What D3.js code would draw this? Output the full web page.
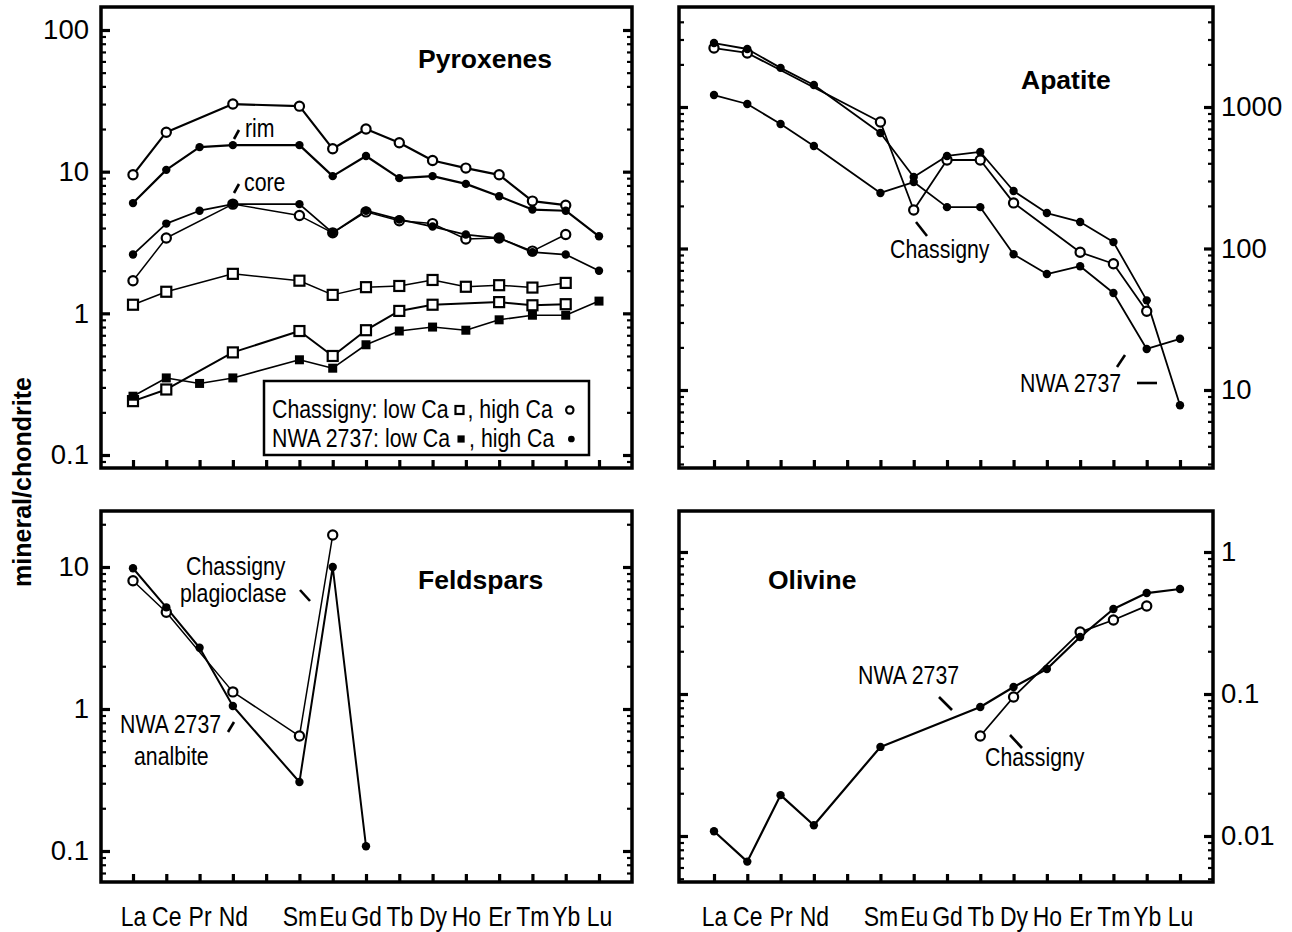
<!DOCTYPE html>
<html>
<head>
<meta charset="utf-8">
<script src="https://cdn.jsdelivr.net/npm/d3@7"></script>
<style>
  body { margin: 0; background: #fff; }
  svg text { font-family: "Liberation Sans", Arial, sans-serif; fill: #000; }
</style>
</head>
<body>
<svg id="chart" width="1292" height="932"></svg>
<script>
// REE order, Pm has a tick but no label and no data
const elements = ['La', 'Ce', 'Pr', 'Nd', 'Pm', 'Sm', 'Eu', 'Gd', 'Tb', 'Dy', 'Ho', 'Er', 'Tm', 'Yb', 'Lu'];
const elementLabels = ['La', 'Ce', 'Pr', 'Nd', '', 'Sm', 'Eu', 'Gd', 'Tb', 'Dy', 'Ho', 'Er', 'Tm', 'Yb', 'Lu'];

// Pyroxenes (mineral/chondrite)
const pyxChasHighRim  = [9.5, 19, null, 30, null, 29, 14.5, 20, 16, 12, 10.6, 9.5, 6.2, 5.8, null];
const pyxNwaHighRim   = [6.0, 10.3, 14.9, 15.4, null, 15.4, 9.3, 12.9, 9.0, 9.3, 8.2, 6.7, 5.4, 5.3, 3.5];
const pyxChasHighCore = [1.7, 3.4, null, 5.9, null, 4.9, 3.7, 5.2, 4.5, 4.3, 3.35, 3.4, 2.75, 3.6, null];
const pyxNwaHighCore  = [2.6, 4.3, 5.3, 5.9, null, 5.9, 3.7, 5.3, 4.6, 4.1, 3.6, 3.4, 2.7, 2.6, 2.0];
const pyxChasLowA     = [1.15, 1.42, null, 1.9, null, 1.7, 1.35, 1.53, 1.56, 1.72, 1.54, 1.58, 1.52, 1.64, null];
const pyxChasLowB     = [0.24, 0.29, null, 0.53, null, 0.75, 0.5, 0.76, 1.04, 1.15, null, 1.2, 1.14, 1.16, null];
const pyxNwaLow       = [0.26, 0.35, 0.32, 0.35, null, 0.47, 0.41, 0.6, 0.75, 0.8, 0.76, 0.9, 0.97, 0.97, 1.22];

// Apatite
const apaNwaHigh = [2830, 2570, 1890, 1430, null, 655, 320, 451, 481, 255, 178, 154, 111, 43, 7.8];
const apaChas    = [2610, 2410, null, null, null, 783, 187, 422, 422, 210, null, 94, 78, 36, null];
const apaNwaLow  = [1215, 1050, 758, 530, null, 247, 295, 196, 196, 91, 66, 75, 48.5, 19.5, 23];

// Feldspars
const felChas = [8.0, 4.8, null, 1.32, null, 0.645, 16.8, null, null, null, null, null, null, null, null];
const felNwa  = [9.8, 5.2, 2.7, 1.05, null, 0.306, 10, 0.108, null, null, null, null, null, null, null];

// Olivine
const olvNwa  = [0.0108, 0.0066, 0.0194, 0.0119, null, 0.0424, null, null, 0.081, 0.112, 0.15, 0.252, 0.397, 0.514, 0.549];
const olvChas = [null, null, null, null, null, null, null, null, 0.0506, 0.0953, null, 0.273, 0.332, 0.417, null];

// tick values
const pyxTicks = [0.1, 1, 10, 100];
const apaTicks = [10, 100, 1000];
const felTicks = [0.1, 1, 10];
const olvTicks = [0.01, 0.1, 1];

const NARROW = 0.82; // no condensed font installed, squeeze Liberation Sans instead
const svg = d3.select('#chart');
const fmt = d3.format('~g');

function minorTicks(lo, hi) {
  const out = [];
  const d0 = Math.floor(Math.log10(lo)), d1 = Math.ceil(Math.log10(hi));
  for (let d = d0; d <= d1; d++) {
    for (let m = 2; m <= 9; m++) {
      const v = m * Math.pow(10, d);
      if (v >= lo && v <= hi) out.push(v);
    }
  }
  return out;
}

function narrowText(parent, x, y, size, str) {
  return parent.append('text')
    .attr('transform', `translate(${x},${y}) scale(${NARROW},1)`)
    .attr('font-size', size).text(str);
}

function drawMarker(g, type, cx, cy, k = 1) {
  if (type === 'openCircle') {
    g.append('circle').attr('cx', cx).attr('cy', cy).attr('r', 4.6 * k)
      .attr('fill', '#fff').attr('stroke', '#000').attr('stroke-width', 2.2);
  } else if (type === 'filledCircle') {
    g.append('circle').attr('cx', cx).attr('cy', cy).attr('r', 4.2 * k).attr('fill', '#000');
  } else if (type === 'openSquare') {
    const h = 5 * k;
    g.append('rect').attr('x', cx - h).attr('y', cy - h).attr('width', 2 * h).attr('height', 2 * h)
      .attr('fill', '#fff').attr('stroke', '#000').attr('stroke-width', 2.2);
  } else if (type === 'filledSquare') {
    const h = 4.5 * k;
    g.append('rect').attr('x', cx - h).attr('y', cy - h).attr('width', 2 * h).attr('height', 2 * h).attr('fill', '#000');
  }
}

function panel(cfg) {
  const g = svg.append('g');
  const f = cfg.frame;
  const x = d3.scaleLinear().domain([0, elements.length - 1]).range(cfg.xRange);
  const y = d3.scaleLog().domain(cfg.yDomain).range(cfg.yRange);
  const minors = minorTicks(y.invert(f.y1 - 3), y.invert(f.y0 + 3));

  // left and right y ticks, pointing inward
  const sides = [
    { axis: d3.axisLeft, tx: f.x0, labels: cfg.labelSide === 'left', pad: 12 },
    { axis: d3.axisRight, tx: f.x1, labels: cfg.labelSide === 'right', pad: 8 }
  ];
  sides.forEach(s => {
    const major = g.append('g').attr('transform', `translate(${s.tx},0)`)
      .call(s.axis(y).tickValues(cfg.yTicks).tickSizeInner(-9).tickSizeOuter(0).tickPadding(s.pad)
        .tickFormat(s.labels ? fmt : () => ''));
    major.select('.domain').remove();
    major.attr('font-family', null).attr('font-size', null);
    major.selectAll('line').attr('stroke-width', 3.2);
    major.selectAll('text').attr('font-size', 27.5);
    const minor = g.append('g').attr('transform', `translate(${s.tx},0)`)
      .call(s.axis(y).tickValues(minors).tickSizeInner(-5).tickSizeOuter(0).tickFormat(() => ''));
    minor.select('.domain').remove();
    minor.selectAll('line').attr('stroke-width', 2.2);
  });

  // x ticks, pointing inward; element labels only under the bottom panels
  const xa = g.append('g').attr('transform', `translate(0,${f.y1})`)
    .call(d3.axisBottom(x).tickValues(d3.range(elements.length)).tickSizeInner(-8).tickSizeOuter(0)
      .tickPadding(24).tickFormat(i => cfg.showX ? elementLabels[i] : ''));
  xa.select('.domain').remove();
  xa.attr('font-family', null).attr('font-size', null);
  xa.selectAll('line').attr('stroke-width', 3.2);
  xa.selectAll('text').attr('font-size', 28).attr('transform', `scale(${NARROW},1)`);

  // frame
  g.append('rect').attr('x', f.x0).attr('y', f.y0).attr('width', f.x1 - f.x0).attr('height', f.y1 - f.y0)
    .attr('fill', 'none').attr('stroke', '#000').attr('stroke-width', 3.5);

  // series: lines first, then markers on top
  const line = d3.line().x(d => x(d.i)).y(d => y(d.v));
  cfg.series.forEach(s => {
    const pts = s.values.map((v, i) => ({ i, v })).filter(d => d.v != null);
    g.append('path').datum(pts).attr('d', line).attr('fill', 'none')
      .attr('stroke', '#000').attr('stroke-width', s.width || 1.8).attr('stroke-linejoin', 'round');
  });
  cfg.series.forEach(s => {
    s.values.forEach((v, i) => { if (v != null) drawMarker(g, s.marker, x(i), y(v)); });
  });

  // title
  g.append('text').attr('x', cfg.title.x).attr('y', cfg.title.y).attr('font-size', 26.5)
    .attr('font-weight', 'bold').text(cfg.title.text);

  // annotations and their little pointer strokes
  (cfg.notes || []).forEach(n => narrowText(g, n.x, n.y, 26, n.text));
  (cfg.marks || []).forEach(m => {
    g.append('line').attr('x1', m[0]).attr('y1', m[1]).attr('x2', m[2]).attr('y2', m[3])
      .attr('stroke', '#000').attr('stroke-width', 2.6);
  });
  return g;
}

panel({
  frame: { x0: 101, x1: 632, y0: 7, y1: 468 },
  xRange: [133, 599], yDomain: [0.1, 100], yRange: [455, 30], yTicks: pyxTicks,
  labelSide: 'left', showX: false,
  series: [
    { values: pyxChasHighRim, marker: 'openCircle', width: 2.2 },
    { values: pyxNwaHighRim, marker: 'filledCircle', width: 2.2 },
    { values: pyxChasHighCore, marker: 'openCircle', width: 1.5 },
    { values: pyxNwaHighCore, marker: 'filledCircle', width: 1.8 },
    { values: pyxChasLowA, marker: 'openSquare', width: 1.5 },
    { values: pyxChasLowB, marker: 'openSquare', width: 2 },
    { values: pyxNwaLow, marker: 'filledSquare', width: 1.6 }
  ],
  title: { text: 'Pyroxenes', x: 418, y: 68 },
  notes: [{ text: 'rim', x: 245, y: 137 }, { text: 'core', x: 244, y: 191 }],
  marks: [[234, 139, 239, 130], [234, 193, 239, 184]]
});

panel({
  frame: { x0: 679, x1: 1213, y0: 7, y1: 468 },
  xRange: [714, 1180], yDomain: [10, 1000], yRange: [390, 107], yTicks: apaTicks,
  labelSide: 'right', showX: false,
  series: [
    { values: apaChas, marker: 'openCircle' },
    { values: apaNwaHigh, marker: 'filledCircle' },
    { values: apaNwaLow, marker: 'filledCircle' }
  ],
  title: { text: 'Apatite', x: 1021, y: 89 },
  notes: [{ text: 'Chassigny', x: 890, y: 258 }, { text: 'NWA 2737', x: 1020, y: 392 }],
  marks: [[916, 222, 927, 236], [1137, 383, 1157, 383], [1117, 367, 1125, 355]]
});

panel({
  frame: { x0: 101, x1: 632, y0: 511, y1: 882 },
  xRange: [133, 599], yDomain: [0.1, 10], yRange: [851, 567], yTicks: felTicks,
  labelSide: 'left', showX: true,
  series: [
    { values: felChas, marker: 'openCircle', width: 1.5 },
    { values: felNwa, marker: 'filledCircle', width: 2 }
  ],
  title: { text: 'Feldspars', x: 418, y: 589 },
  notes: [
    { text: 'Chassigny', x: 186, y: 575 }, { text: 'plagioclase', x: 180, y: 602 },
    { text: 'NWA 2737', x: 120, y: 733 }, { text: 'analbite', x: 134, y: 765 }
  ],
  marks: [[300, 590, 310, 601], [228, 732, 234, 722]]
});

panel({
  frame: { x0: 679, x1: 1213, y0: 511, y1: 882 },
  xRange: [714, 1180], yDomain: [0.01, 1], yRange: [836, 552], yTicks: olvTicks,
  labelSide: 'right', showX: true,
  series: [
    { values: olvChas, marker: 'openCircle' },
    { values: olvNwa, marker: 'filledCircle', width: 2.2 }
  ],
  title: { text: 'Olivine', x: 768, y: 589 },
  notes: [{ text: 'NWA 2737', x: 858, y: 684 }, { text: 'Chassigny', x: 985, y: 766 }],
  marks: [[939, 697, 952, 710], [1010, 735, 1022, 748]]
});

// legend inside the pyroxene panel
const legendRows = [
  { label: 'Chassigny: low Ca', low: 'openSquare', high: 'openCircle', y: 418 },
  { label: 'NWA 2737: low Ca', low: 'filledSquare', high: 'filledCircle', y: 447 }
];
const lg = svg.append('g');
lg.append('rect').attr('x', 264).attr('y', 381).attr('width', 325).attr('height', 74)
  .attr('fill', '#fff').attr('stroke', '#000').attr('stroke-width', 2.5);
legendRows.forEach(r => {
  const t1 = narrowText(lg, 272, r.y, 26, r.label);
  const e1 = 272 + t1.node().getComputedTextLength() * NARROW;
  drawMarker(lg, r.low, e1 + 11, r.y - 8, 0.8);
  const t2 = narrowText(lg, e1 + 19, r.y, 26, ', high Ca');
  const e2 = e1 + 19 + t2.node().getComputedTextLength() * NARROW;
  drawMarker(lg, r.high, e2 + 17, r.y - 8, 0.8);
});

// y axis title
svg.append('text').attr('transform', 'translate(31,482) rotate(-90)')
  .attr('text-anchor', 'middle').attr('font-size', 25).attr('font-weight', 'bold')
  .text('mineral/chondrite');
</script>
</body>
</html>
